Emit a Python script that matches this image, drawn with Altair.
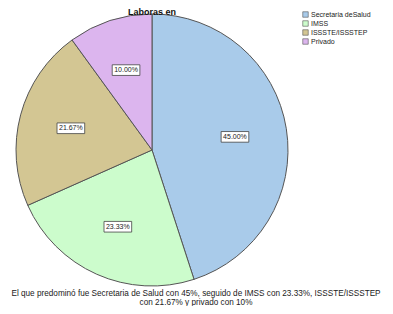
import altair as alt
import pandas as pd

categories = ["Secretaria deSalud", "IMSS", "ISSSTE/ISSSTEP", "Privado"]
values = [45.00, 23.33, 21.67, 10.00]
labels = ["45.00%", "23.33%", "21.67%", "10.00%"]
colors = ["#a9cbea", "#ccfccc", "#d3c693", "#dcb5ee"]
title_text = "Laboras en"
footer_lines = [
    "El que predominó fue Secretaria de Salud con 45%, seguido de IMSS con 23.33%, ISSSTE/ISSSTEP",
    "con 21.67% y privado con 10%",
]

df = pd.DataFrame({"cat": categories, "val": values, "lab": labels, "idx": list(range(len(categories)))})

CX, CY, R, LR = 144, 142, 136, 84
FONT = "Liberation Sans"

base = alt.Chart(df)

pie = base.mark_arc(stroke="#555555", strokeWidth=1, radius=R).encode(
    theta=alt.Theta("val:Q", stack=True),
    order=alt.Order("idx:Q"),
    color=alt.Color(
        "cat:N",
        sort=categories,
        scale=alt.Scale(domain=categories, range=colors),
        legend=alt.Legend(
            title=None, orient="none", legendX=294, legendY=3,
            symbolType="square", symbolSize=30, symbolStrokeColor="#555555",
            symbolStrokeWidth=0.6, labelFont=FONT, labelFontSize=7,
            labelColor="#222222", rowPadding=0, labelOffset=2, padding=0,
        ),
    ),
    x=alt.value(CX),
    y=alt.value(CY),
)

pos = base.transform_window(
    cum="sum(val)", sort=[alt.SortField("idx")], frame=[None, 0]
).transform_joinaggregate(
    total="sum(val)"
).transform_calculate(
    mid="(datum.cum - datum.val/2) / datum.total * 2 * PI"
).transform_calculate(
    lx=f"{CX} + {LR} * sin(datum.mid)",
    ly=f"{CY} - {LR} * cos(datum.mid)",
)

boxes = pos.mark_point(
    shape="M-1.35,-0.52H1.35V0.52H-1.35Z", size=420, filled=True,
    fill="white", stroke="#444444", strokeWidth=0.8, opacity=1,
).encode(
    x=alt.X("lx:Q", scale=None),
    y=alt.Y("ly:Q", scale=None),
)

texts = pos.mark_text(font=FONT, fontSize=7, color="#222222", baseline="middle").encode(
    x=alt.X("lx:Q", scale=None),
    y=alt.Y("ly:Q", scale=None),
    text="lab:N",
)

title = alt.Chart(pd.DataFrame({"t": [title_text]})).mark_text(
    font=FONT, fontSize=9, fontWeight="bold", baseline="alphabetic", color="#111111"
).encode(text="t:N", x=alt.value(CX), y=alt.value(7))

footer = alt.Chart(pd.DataFrame({"t": [0]})).mark_text(
    font=FONT, fontSize=8.2, align="center", baseline="alphabetic",
    lineHeight=8.5, color="#222222", text=footer_lines,
).encode(x=alt.value(188), y=alt.value(288))

chart = alt.layer(pie, boxes, texts, title, footer).properties(
    width=377, height=298,
    autosize=alt.AutoSizeParams(type="none"),
    padding=0,
).configure_view(stroke=None)

chart.save("out.html", embed_options={"renderer": "svg", "actions": False})
